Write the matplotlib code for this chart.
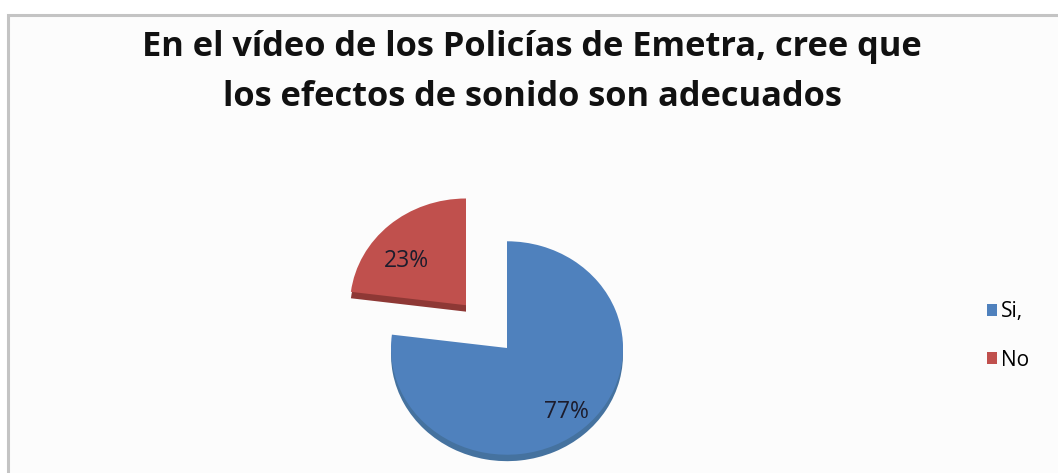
import matplotlib
matplotlib.use("Agg")
import matplotlib.pyplot as plt
from matplotlib.patches import Rectangle
import numpy as np

# Survey answers
categories = ["Si,", "No"]
shares = [77, 23]
colors = ["#4F81BD", "#C0504D"]
side_colors = ["#45729F", "#8E3835"]
title_lines = ["En el vídeo de los Policías de Emetra, cree que",
               "los efectos de sonido son adecuados"]

W, H, DPI = 1058, 473, 100
fig = plt.figure(figsize=(W / DPI, H / DPI), dpi=DPI)
fig.patch.set_facecolor("white")

# Chart frame
bg = fig.add_axes([0, 0, 1, 1])
bg.set_xlim(0, W)
bg.set_ylim(H, 0)
bg.axis("off")
bg.add_patch(Rectangle((8, 15), W + 20, H, facecolor="#FCFCFC",
                       edgecolor="#C4C4C4", linewidth=2.2))

# Title, two centred lines; size chosen so the first line spans ~780 px
title_font = dict(family="Open Sans", fontweight="bold", color="#111111")
probe = fig.text(0, 0, title_lines[0], fontsize=20, **title_font)
fig.canvas.draw()
w20 = probe.get_window_extent().width
probe.remove()
tsize = 20 * 782 / w20
for line, base in zip(title_lines, [56, 106]):
    fig.text(532 / W, 1 - base / H, line, ha="center", va="baseline",
             fontsize=tsize, **title_font)

# Pie axes, slightly squashed vertically for the tilted look
cx, cy = 507, 348
pw, ph = 340, 320
ax = fig.add_axes([(cx - pw / 2) / W, 1 - (cy + ph / 2) / H, pw / W, ph / H])
ratio = 0.92
radius = 1.16
explode = [0, 0.62]
depth = 0.07

# Sides of the slices
ax.pie(shares, colors=side_colors, startangle=90, counterclock=False,
       radius=radius, explode=explode, center=(0, -depth),
       wedgeprops=dict(linewidth=0), frame=False)
wedges, _, autotexts = ax.pie(
    shares, colors=colors, startangle=90, counterclock=False,
    radius=radius, explode=explode, center=(0, 0),
    autopct=lambda p: f"{p:.0f}%", pctdistance=0.7,
    wedgeprops=dict(linewidth=0), frame=False,
    textprops=dict(fontsize=16.5, color="#1c1c2c", family="Open Sans"))
ax.set_aspect("auto")
ax.set_xlim(-pw / 200, pw / 200)
ax.set_ylim(-ph / 200 / ratio, ph / 200 / ratio)
ax.axis("off")

label_dist = [0.79, 0.66]
label_turn = [-1, 10]
for w, t, d, turn in zip(wedges, autotexts, label_dist, label_turn):
    th = np.deg2rad((w.theta1 + w.theta2) / 2 + turn)
    x0, y0 = w.center
    t.set_position((x0 + d * radius * np.cos(th), y0 + d * radius * np.sin(th)))

# Legend
handles = [Rectangle((0, 0), 1, 1, facecolor=c) for c in colors]
fig.legend(handles, categories, loc="center left",
           bbox_to_anchor=(968 / W, 1 - 336 / H), frameon=False,
           handlelength=0.5, handleheight=0.5, handletextpad=0.2,
           labelspacing=1.3, prop=dict(family="Open Sans", size=15))

fig.savefig("out.png", dpi=DPI, facecolor="white")
